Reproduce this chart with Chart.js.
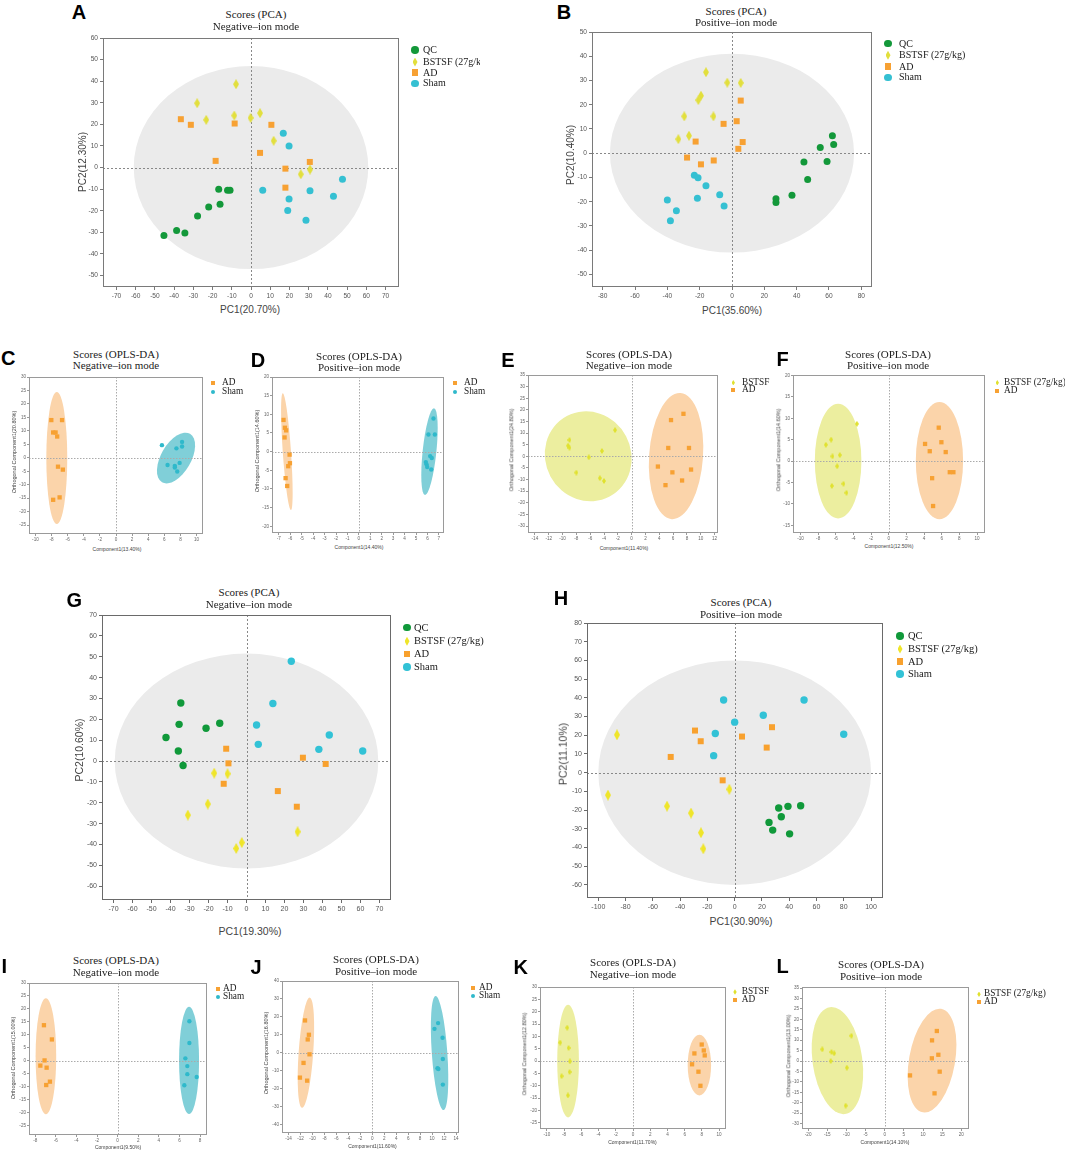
<!DOCTYPE html>
<html><head><meta charset="utf-8">
<script src="https://cdn.jsdelivr.net/npm/chart.js@4.4.0/dist/chart.umd.min.js"></script>
<style>
body{margin:0;background:#fff;}
#root{position:relative;width:1065px;height:1151px;overflow:hidden;background:#fff;}
#root canvas{position:absolute;}
.t{position:absolute;white-space:nowrap;z-index:5;}
.ttl{font-family:'Liberation Serif','Times New Roman',serif;color:#222;font-size:11px;line-height:11px;}
.let{font-family:'Liberation Sans',Arial,sans-serif;font-weight:bold;color:#000;font-size:20px;line-height:20px;}
.ax{font-family:'Liberation Sans',Arial,sans-serif;color:#444;}
.lg{font-family:'Liberation Serif','Times New Roman',serif;color:#1a1a1a;}
.mk{position:absolute;z-index:5;}
</style></head><body><div id="root"></div>
<script>
// ---------------- DATA ----------------
// Panel A: PCA negative
const A_QC=[[-45.3,-31.5],[-38.7,-29.1],[-34.4,-30.3],[-27.8,-22.4],[-22.0,-18.2],[-16.1,-17.0],[-16.8,-10.0],[-12.2,-10.5],[-10.9,-10.5]];
const A_BSTSF=[[-28.0,29.8],[-23.3,22.1],[-7.8,38.6],[-8.7,24.1],[-0.2,23.0],[4.7,25.2],[11.8,12.4],[25.9,-3.1],[30.7,-0.9]];
const A_AD=[[-36.5,22.4],[-31.3,19.8],[-18.4,3.1],[-8.5,20.4],[10.6,19.8],[4.7,6.8],[17.9,-0.5],[30.6,2.6],[17.9,-9.3]];
const A_SHAM=[[16.8,15.9],[19.8,10.0],[6.1,-10.5],[19.8,-14.5],[19.1,-19.9],[28.6,-24.4],[30.7,-10.7],[42.9,-13.3],[47.6,-5.4]];
const A_ELL=[0,0,61,47,0];
const A_XT=[-70,-60,-50,-40,-30,-20,-10,0,10,20,30,40,50,60,70];
const A_YT=[-50,-40,-30,-20,-10,0,10,20,30,40,50,60];
// Panel B: PCA positive
const B_QC=[[62.1,7.2],[62.9,3.6],[54.6,2.3],[58.8,-3.4],[44.5,-3.6],[46.8,-10.9],[37.1,-17.4],[27.2,-18.8],[27.2,-20.3]];
const B_BSTSF=[[-16.1,33.4],[-2.9,29.1],[5.4,29.0],[-19.2,23.7],[-20.8,21.9],[-29.5,15.2],[-11.5,15.2],[-26.6,7.2],[-33.2,5.8]];
const B_AD=[[5.4,21.7],[-5.2,12.1],[2.9,13.2],[-22.5,4.8],[6.6,4.6],[3.9,1.8],[-27.8,-1.8],[-19.2,-4.6],[-11.3,-3.0]];
const B_SHAM=[[-23.3,-9.1],[-21.0,-10.1],[-16.1,-13.4],[-7.6,-17.1],[-4.9,-21.8],[-21.4,-18.6],[-40.0,-19.3],[-34.4,-23.7],[-38.1,-27.9]];
const B_ELL=[0,0,75.5,41,0];
const B_XT=[-80,-60,-40,-20,0,20,40,60,80];
const B_YT=[-50,-40,-30,-20,-10,0,10,20,30,40,50];
// Panel C
const C_AD=[[-8.03,14.0],[-6.7,14.0],[-7.8,9.4],[-7.5,9.4],[-7.3,7.9],[-7.2,-3.3],[-6.6,-4.4],[-7.8,-15.6],[-7.0,-14.7]];
const C_SHAM=[[5.7,4.7],[8.2,5.9],[8.2,4.2],[7.5,3.5],[6.4,-2.7],[7.9,-1.9],[7.3,-3.0],[7.3,-3.6],[7.6,-5.1]];
const C_ELL_AD=[-7.35,-0.1,1.3,24.5,0];
const C_ELL_SHAM=[7.45,-0.1,1.86,10.4,30];
const C_XT=[-10,-8,-6,-4,-2,0,2,4,6,8,10];
const C_YT=[-25,-20,-15,-10,-5,0,5,10,15,20,25,30];
// Panel D
const D_AD=[[-6.59,8.5],[-6.47,6.4],[-6.36,5.7],[-6.5,3.8],[-6.06,-0.8],[-6.03,-3.1],[-6.18,-3.9],[-6.41,-7.1],[-6.27,-9.2]];
const D_SHAM=[[6.53,8.9],[6.09,4.6],[6.65,4.6],[6.24,-1.2],[6.38,-1.7],[5.86,-2.8],[5.92,-3.4],[5.98,-4.1],[6.33,-4.8]];
const D_ELL_AD=[-6.3,0,0.36,15.7,-4];
const D_ELL_SHAM=[6.18,0,0.6,11.7,6];
const D_XT=[-7,-6,-5,-4,-3,-2,-1,0,1,2,3,4,5,6,7];
const D_YT=[-20,-15,-10,-5,0,5,10,15,20];
// Panel E
const E_BSTSF=[[-2.4,11.3],[-9.0,7.0],[-9.2,4.6],[-9.0,3.7],[-4.3,2.3],[-6.2,-0.4],[-8.0,-7.0],[-4.6,-9.4],[-4.0,-10.6]];
const E_AD=[[7.5,18.3],[5.7,15.6],[5.3,3.6],[8.3,3.6],[3.8,-4.4],[8.6,-5.7],[5.9,-6.9],[7.3,-10.4],[4.9,-12.4]];
const E_ELL_BSTSF=[-6.28,0,6.2,19.6,-28];
const E_ELL_AD=[6.43,0.1,3.9,27.2,4];
const E_XT=[-14,-12,-10,-8,-6,-4,-2,0,2,4,6,8,10,12];
const E_YT=[-30,-25,-20,-15,-10,-5,0,5,10,15,20,25,30,35];
// Panel F
const F_BSTSF=[[-3.62,8.7],[-6.53,5.0],[-7.13,3.8],[-5.55,1.4],[-6.38,1.1],[-5.85,-1.2],[-6.45,-5.8],[-5.13,-5.3],[-4.79,-7.4]];
const F_AD=[[5.66,7.8],[5.96,4.4],[4.11,4.0],[4.64,2.3],[6.45,2.1],[6.91,-2.6],[7.32,-2.6],[4.91,-4.0],[5.02,-10.5]];
const F_ELL_BSTSF=[-5.74,0,2.64,13.4,0];
const F_ELL_AD=[5.74,0.1,2.68,13.7,0];
const F_XT=[-10,-8,-6,-4,-2,0,2,4,6,8,10];
const F_YT=[-15,-10,-5,0,5,10,15,20];
// Panel G: PCA negative
const G_QC=[[-34.6,27.8],[-35.5,17.6],[-42.4,11.3],[-35.9,4.8],[-33.4,-2.1],[-21.3,15.7],[-14.1,18.1]];
const G_BSTSF=[[-17.0,-5.8],[-10.0,-6.1],[-20.4,-20.6],[-30.9,-25.9],[-2.5,-39.1],[-5.4,-41.9],[26.9,-33.9]];
const G_AD=[[-10.7,5.9],[-9.5,-1.1],[-12.0,-10.9],[16.5,-14.4],[26.5,-21.9],[29.7,1.6],[41.7,-1.4]];
const G_SHAM=[[23.6,47.8],[13.9,27.6],[5.3,17.3],[6.2,8.0],[38.1,5.6],[43.6,12.5],[61.2,4.8]];
const G_ELL=[0,0,69.4,51.5,0];
const G_XT=[-70,-60,-50,-40,-30,-20,-10,0,10,20,30,40,50,60,70];
const G_YT=[-60,-50,-40,-30,-20,-10,0,10,20,30,40,50,60,70];
// Panel H: PCA positive
const H_QC=[[32.3,-18.9],[39.1,-18.0],[48.4,-17.7],[34.2,-23.6],[25.2,-26.6],[27.9,-30.7],[40.3,-32.7]];
const H_BSTSF=[[-86.3,20.2],[-92.9,-12.0],[-49.6,-17.9],[-32.0,-21.6],[-24.7,-32.1],[-23.0,-40.7],[-3.9,-8.9]];
const H_AD=[[-29.1,22.5],[-24.9,16.8],[-46.9,8.4],[-8.8,-4.1],[5.4,19.3],[27.4,24.3],[23.5,13.4]];
const H_SHAM=[[-8.1,38.8],[0,27.0],[-14.2,20.9],[-15.4,9.1],[21.0,30.7],[50.9,38.8],[80.0,20.5]];
const H_ELL=[0,0,100,60,0];
const H_XT=[-100,-80,-60,-40,-20,0,20,40,60,80,100];
const H_YT=[-60,-50,-40,-30,-20,-10,0,10,20,30,40,50,60,70,80];
// Panel I
const I_AD=[[-7.15,13.7],[-6.38,8.2],[-7.09,0.1],[-7.5,-1.9],[-6.89,-2.7],[-6.57,-8.1],[-6.93,-9.4]];
const I_SHAM=[[6.96,15.2],[6.96,6.8],[6.57,0.9],[6.76,-2.1],[6.76,-5.2],[7.67,-6.3],[6.47,-9.5]];
const I_ELL_AD=[-6.96,1.7,1.0,22.4,0];
const I_ELL_SHAM=[6.93,0.1,0.97,20.7,0];
const I_XT=[-8,-6,-4,-2,0,2,4,6,8];
const I_YT=[-25,-20,-15,-10,-5,0,5,10,15,20,25,30];
// Panel J
const J_AD=[[-11.25,18.0],[-10.6,10.0],[-10.8,7.4],[-10.5,-0.9],[-11.5,-5.7],[-12.1,-13.9],[-10.9,-15.6]];
const J_SHAM=[[11.0,16.5],[10.4,13.3],[11.75,8.3],[11.8,-3.5],[10.9,-8.7],[11.05,-9.1],[11.8,-17.8]];
const J_ELL_AD=[-11.1,0,1.22,30.8,4];
const J_ELL_SHAM=[11.25,-0.2,1.3,31.9,-4];
const J_XT=[-14,-12,-10,-8,-6,-4,-2,0,2,4,6,8,10,12,14];
const J_YT=[-40,-30,-20,-10,0,10,20,30,40];
// Panel K
const K_BSTSF=[[-7.64,13.5],[-8.45,7.5],[-7.48,5.3],[-7.33,-0.1],[-7.36,-4.4],[-8.29,-6.1],[-7.56,-13.9]];
const K_AD=[[7.98,6.7],[7.13,3.1],[8.22,4.3],[8.33,2.3],[6.86,-1.3],[7.6,-4.3],[7.83,-10.0]];
const K_ELL_BSTSF=[-7.54,0,1.26,22.8,0];
const K_ELL_AD=[7.71,-1.6,1.36,12.3,0];
const K_XT=[-10,-8,-6,-4,-2,0,2,4,6,8,10];
const K_YT=[-25,-20,-15,-10,-5,0,5,10,15,20,25,30];
// Panel L
const L_BSTSF=[[-8.7,12.1],[-16.3,5.6],[-13.9,4.3],[-13.2,3.7],[-14.1,0],[-9.9,-3.2],[-10.2,-21.4]];
const L_AD=[[13.6,14.4],[12.35,9.9],[14.0,3.0],[12.3,1.3],[14.35,-5.1],[6.6,-6.9],[13.0,-15.5]];
const L_ELL_BSTSF=[-12.35,0.2,6.5,25.9,-8];
const L_ELL_AD=[12.35,0.2,6.0,25.2,10];
const L_XT=[-20,-15,-10,-5,0,5,10,15,20];
const L_YT=[-30,-25,-20,-15,-10,-5,0,5,10,15,20,25,30,35];

const LEG_PCA=['QC','BSTSF (27g/kg)','AD','Sham'];
const KEY_PCA=['QC','BSTSF','AD','Sham'];

// ---------------- STYLE ----------------
const MARK={
  pca:{QC:{shape:'circle',d:7,color:'#13983a'},BSTSF:{shape:'diamond',w:6,h:10,color:'#e2df3d'},AD:{shape:'square',d:6,color:'#f7a133'},Sham:{shape:'circle',d:7,color:'#35c0d2'}},
  pcaG:{QC:{shape:'circle',d:7.4,color:'#10993a'},BSTSF:{shape:'diamond',w:6,h:11,color:'#efe52a'},AD:{shape:'square',d:6,color:'#f8a12e'},Sham:{shape:'circle',d:7.4,color:'#32c2d6'}},
  opls:{AD:{shape:'square',d:4.3,color:'#f7a133'},Sham:{shape:'circle',d:4.4,color:'#2fb9cb'},BSTSF:{shape:'diamond',w:4,h:6,color:'#e0e12e'}}
};
const LEGMARK={
  pca:{QC:{shape:'circle',d:7.5},BSTSF:{shape:'diamond',w:5,h:9},AD:{shape:'square',d:6.5},Sham:{shape:'circle',d:7.5}},
  opls:{AD:{shape:'square',d:3.8},Sham:{shape:'circle',d:4},BSTSF:{shape:'diamond',w:3.4,h:5.5}}
};
const FILL={gray:'#ebebeb',AD:'#fbd4aa',Sham:'#80cfd8',BSTSF:'#ecee9f'};
const KIND={
  pca:{ML:30,MT:8,MR:12,MB:16,tick:6.6,tl:3,pad:2,frame:'#7a7a7a',zero:'#888',dash:[2,2],legSize:10,axSize:10,tickColor:'#555'},
  pcaG:{ML:30,MT:8,MR:12,MB:16,tick:7,tl:3,pad:2,frame:'#6a6a6a',zero:'#888',dash:[2,2],legSize:10.5,axSize:10.5,tickColor:'#555'},
  opls:{ML:14,MT:6,MR:10,MB:9,tick:4.6,tl:2,pad:1,frame:'#9a9a9a',zero:'#aaa',dash:[1.5,1.5],legSize:9.3,axY:5.5,axX:5,tickColor:'#666'}
};

const PANELS=[
 {L:'A',let:[79,11.7],plot:[103,38,399,287],xr:[-77,77],yr:[-55.3,60],xt:A_XT,yt:A_YT,kind:'pca',
  series:[['QC',A_QC],['BSTSF',A_BSTSF],['AD',A_AD],['Sham',A_SHAM]],ells:[[A_ELL,'gray']],
  title:[256,14.3,25.7,'Scores (PCA)','Negative–ion mode'],ytitle:[83,162,'PC2(12.30%)'],xtitle:[250,310,'PC1(20.70%)'],
  leg:{mx:415,tx:423,ys:[50,62,72.7,83.3],labels:LEG_PCA,keys:KEY_PCA,clip:480}},
 {L:'B',let:[564,11.5],plot:[592,32,872,287],xr:[-86.6,86.6],yr:[-55.2,50],xt:B_XT,yt:B_YT,kind:'pca',
  series:[['QC',B_QC],['BSTSF',B_BSTSF],['AD',B_AD],['Sham',B_SHAM]],ells:[[B_ELL,'gray']],
  title:[736,10.7,22,'Scores (PCA)','Positive–ion mode'],ytitle:[571,155,'PC2(10.40%)'],xtitle:[732,311,'PC1(35.60%)'],
  leg:{mx:888,tx:899,ys:[43.7,55.3,66.7,77.3],labels:LEG_PCA,keys:KEY_PCA}},
 {L:'C',let:[8.3,358.3],plot:[29,377,203,534],xr:[-10.8,10.8],yr:[-28.3,30],xt:C_XT,yt:C_YT,kind:'opls',
  series:[['AD',C_AD],['Sham',C_SHAM]],ells:[[C_ELL_AD,'AD'],[C_ELL_SHAM,'Sham']],
  title:[116,354,365.3,'Scores (OPLS-DA)','Negative–ion mode'],ytitle:[15,452,'Orthogonal Component1(20.80%)'],xtitle:[117,549,'Component1(13.40%)'],
  leg:{mx:213,tx:222,ys:[383.3,391.7],labels:['AD','Sham'],keys:['AD','Sham']}},
 {L:'D',let:[258,360],plot:[272,377,444,533],xr:[-7.6,7.45],yr:[-21.8,20],xt:D_XT,yt:D_YT,kind:'opls',
  series:[['AD',D_AD],['Sham',D_SHAM]],ells:[[D_ELL_AD,'AD'],[D_ELL_SHAM,'Sham']],
  title:[359,355.7,367.3,'Scores (OPLS-DA)','Positive–ion mode'],ytitle:[258.3,451,'Orthogonal Component1(14.60%)'],xtitle:[359,546.7,'Component1(14.40%)'],
  leg:{mx:455,tx:464,ys:[383.3,392.3],labels:['AD','Sham'],keys:['AD','Sham']}},
 {L:'E',let:[508,360],plot:[528,375,718,533],xr:[-15,12.5],yr:[-33,35],xt:E_XT,yt:E_YT,kind:'opls',
  series:[['BSTSF',E_BSTSF],['AD',E_AD]],ells:[[E_ELL_BSTSF,'BSTSF'],[E_ELL_AD,'AD']],
  title:[629,354,365.3,'Scores (OPLS-DA)','Negative–ion mode'],ytitle:[511.7,450,'Orthogonal Component1(24.80%)'],xtitle:[624,547.7,'Component1(11.40%)'],
  leg:{mx:733.3,tx:742,ys:[382.7,390],labels:['BSTSF','AD'],keys:['BSTSF','AD']}},
 {L:'F',let:[782.5,359.2],plot:[793,375,985,533],xr:[-10.85,10.9],yr:[-16.8,20.1],xt:F_XT,yt:F_YT,kind:'opls',
  series:[['BSTSF',F_BSTSF],['AD',F_AD]],ells:[[F_ELL_BSTSF,'BSTSF'],[F_ELL_AD,'AD']],
  title:[888,354,365.3,'Scores (OPLS-DA)','Positive–ion mode'],ytitle:[779,450,'Orthogonal Component1(14.60%)'],xtitle:[889,545.7,'Component1(12.50%)'],
  leg:{mx:997.3,tx:1004,ys:[382.7,390.7],labels:['BSTSF (27g/kg)','AD'],keys:['BSTSF','AD']}},
 {L:'G',let:[74.2,599.5],plot:[102,615,391,900],xr:[-76.1,76.1],yr:[-66.6,70],xt:G_XT,yt:G_YT,kind:'pcaG',
  series:[['QC',G_QC],['BSTSF',G_BSTSF],['AD',G_AD],['Sham',G_SHAM]],ells:[[G_ELL,'gray']],
  title:[249,592.3,604,'Scores (PCA)','Negative–ion mode'],ytitle:[79,750,'PC2(10.60%)'],xtitle:[250,931,'PC1(19.30%)'],
  leg:{mx:407,tx:414,ys:[627.7,641.3,654,667],labels:LEG_PCA,keys:KEY_PCA}},
 {L:'H',let:[561,598.3],plot:[587,623,883,898],xr:[-108.3,108.8],yr:[-67,80],xt:H_XT,yt:H_YT,kind:'pcaG',
  series:[['QC',H_QC],['BSTSF',H_BSTSF],['AD',H_AD],['Sham',H_SHAM]],ells:[[H_ELL,'gray']],
  title:[741,602.3,613.7,'Scores (PCA)','Positive–ion mode'],ytitle:[563.3,754,'PC2(11.10%)'],xtitle:[741,921,'PC1(30.90%)'],
  leg:{mx:900,tx:908,ys:[636,649,661.7,674],labels:LEG_PCA,keys:KEY_PCA}},
 {L:'I',let:[4.2,965.8],plot:[29,983,207,1135],xr:[-8.6,8.67],yr:[-28.7,30],xt:I_XT,yt:I_YT,kind:'opls',
  series:[['AD',I_AD],['Sham',I_SHAM]],ells:[[I_ELL_AD,'AD'],[I_ELL_SHAM,'Sham']],
  title:[116,960.3,971.7,'Scores (OPLS-DA)','Negative–ion mode'],ytitle:[14.3,1058,'Orthogonal Component1(15.00%)'],xtitle:[118,1146.7,'Component1(9.50%)'],
  leg:{mx:217.7,tx:223,ys:[989.3,997.3],labels:['AD','Sham'],keys:['AD','Sham']}},
 {L:'J',let:[256,966.7],plot:[282,981,459,1133],xr:[-15.1,14.5],yr:[-44.8,40],xt:J_XT,yt:J_YT,kind:'opls',
  series:[['AD',J_AD],['Sham',J_SHAM]],ells:[[J_ELL_AD,'AD'],[J_ELL_SHAM,'Sham']],
  title:[376,959,970.7,'Scores (OPLS-DA)','Positive–ion mode'],ytitle:[267.3,1053,'Orthogonal Component1(16.80%)'],xtitle:[372.5,1146,'Component1(11.60%)'],
  leg:{mx:473.3,tx:479,ys:[987.7,995.7],labels:['AD','Sham'],keys:['AD','Sham']}},
 {L:'K',let:[520.8,966.7],plot:[540,987,726,1129],xr:[-10.8,10.8],yr:[-27.5,30],xt:K_XT,yt:K_YT,kind:'opls',
  series:[['BSTSF',K_BSTSF],['AD',K_AD]],ells:[[K_ELL_BSTSF,'BSTSF'],[K_ELL_AD,'AD']],
  title:[633,962.3,974.3,'Scores (OPLS-DA)','Negative–ion mode'],ytitle:[525,1054,'Orthogonal Component1(12.80%)'],xtitle:[632.5,1141.7,'Component1(11.70%)'],
  leg:{mx:735,tx:741.7,ys:[992,1000.3],labels:['BSTSF','AD'],keys:['BSTSF','AD']}},
 {L:'L',let:[782.5,965.8],plot:[802,987,969,1129],xr:[-21.6,22],yr:[-32.6,35.5],xt:L_XT,yt:L_YT,kind:'opls',
  series:[['BSTSF',L_BSTSF],['AD',L_AD]],ells:[[L_ELL_BSTSF,'BSTSF'],[L_ELL_AD,'AD']],
  title:[881,964.3,976,'Scores (OPLS-DA)','Positive–ion mode'],ytitle:[789,1056,'Orthogonal Component1(13.00%)'],xtitle:[885,1142.3,'Component1(14.10%)'],
  leg:{mx:979,tx:984,ys:[994.3,1002.3],labels:['BSTSF (27g/kg)','AD'],keys:['BSTSF','AD']}}
];

// ---------------- DRAWING ----------------
const root=document.getElementById('root');
const SANS="'Liberation Sans', Arial, sans-serif";

function txt(s,x,y,cls,css,mode){
  const d=document.createElement('div');
  d.className='t '+cls; d.textContent=s;
  d.style.left=x+'px'; d.style.top=y+'px';
  if(mode==='rot') d.style.transform='translate(-50%,-50%) rotate(-90deg)';
  else if(mode==='left') d.style.transform='translate(0,-50%)';
  else d.style.transform='translate(-50%,-50%)';
  Object.assign(d.style,css||{});
  root.appendChild(d);
  return d;
}
function marker(m,color,x,y){
  const d=document.createElement('div'); d.className='mk';
  const w=m.shape==='diamond'?m.w:m.d, h=m.shape==='diamond'?m.h:m.d;
  d.style.left=(x-w/2)+'px'; d.style.top=(y-h/2)+'px';
  d.style.width=w+'px'; d.style.height=h+'px'; d.style.background=color;
  if(m.shape==='circle') d.style.borderRadius='50%';
  if(m.shape==='diamond') d.style.clipPath='polygon(50% 0,100% 50%,50% 100%,0 50%)';
  root.appendChild(d);
}
function diamondImg(w,h,color){
  const c=document.createElement('canvas'); c.width=w; c.height=h;
  const g=c.getContext('2d'); g.fillStyle=color; g.beginPath();
  g.moveTo(w/2,0); g.lineTo(w,h/2); g.lineTo(w/2,h); g.lineTo(0,h/2); g.closePath(); g.fill();
  return c;
}
function dataset(name,arr,m){
  const o={label:name,data:arr.map(p=>({x:p[0],y:p[1]})),backgroundColor:m.color,borderColor:m.color,
    pointBackgroundColor:m.color,pointBorderColor:m.color,pointBorderWidth:0,pointHoverRadius:0};
  if(m.shape==='circle'){o.pointStyle='circle';o.pointRadius=m.d/2;}
  else if(m.shape==='square'){o.pointStyle='rect';o.pointRadius=m.d*Math.SQRT1_2;}
  else {o.pointStyle=diamondImg(m.w,m.h,m.color);o.pointRadius=m.h/2;}
  return o;
}
const decor={
  id:'decor',
  beforeDatasetsDraw(chart,args,opts){
    const ctx=chart.ctx,a=chart.chartArea,xs=chart.scales.x,ys=chart.scales.y;
    ctx.save();
    opts.ellipses.forEach(e=>{
      const [cx,cy,rx,ry,tilt]=e.p;
      const px=xs.getPixelForValue(cx),py=ys.getPixelForValue(cy);
      const rxp=Math.abs(xs.getPixelForValue(cx+rx)-px),ryp=Math.abs(ys.getPixelForValue(cy+ry)-py);
      ctx.beginPath(); ctx.ellipse(px,py,rxp,ryp,tilt*Math.PI/180,0,Math.PI*2);
      ctx.fillStyle=e.fill; ctx.fill();
    });
    ctx.strokeStyle=opts.zero; ctx.lineWidth=1; ctx.setLineDash(opts.dash);
    const x0=Math.round(xs.getPixelForValue(0))+0.5,y0=Math.round(ys.getPixelForValue(0))+0.5;
    ctx.beginPath(); ctx.moveTo(x0,a.top); ctx.lineTo(x0,a.bottom);
    ctx.moveTo(a.left,y0); ctx.lineTo(a.right,y0); ctx.stroke();
    ctx.setLineDash([]); ctx.strokeStyle=opts.frame; ctx.lineWidth=1;
    ctx.strokeRect(Math.round(a.left)+0.5,Math.round(a.top)+0.5,Math.round(a.right-a.left)-1,Math.round(a.bottom-a.top)-1);
    ctx.restore();
  }
};

PANELS.forEach(P=>{
  const K=KIND[P.kind];
  const isOpls=P.kind==='opls';
  const [l,t,r,b]=P.plot;
  const cv=document.createElement('canvas');
  const W=(r-l)+K.ML+K.MR,H=(b-t)+K.MT+K.MB;
  cv.width=W; cv.height=H;
  cv.style.left=(l-K.ML)+'px'; cv.style.top=(t-K.MT)+'px';
  cv.style.width=W+'px'; cv.style.height=H+'px';
  root.appendChild(cv);
  const marks=MARK[P.kind];
  const datasets=P.series.map(s=>dataset(s[0],s[1],marks[s[0]]));
  const ells=P.ells.map(e=>({p:e[0],fill:FILL[e[1]]}));
  const axisCommon=(ticksArr,isX)=>({
    type:'linear',bounds:'data',
    afterBuildTicks:sc=>{sc.ticks=ticksArr.map(v=>({value:v}));},
    afterFit:sc=>{ if(isX) sc.height=K.MB; else sc.width=K.ML; },
    ticks:{autoSkip:false,maxRotation:0,minRotation:0,padding:K.pad,color:K.tickColor,
      font:{family:SANS,size:K.tick},callback:v=>String(v)},
    grid:{drawOnChartArea:false,drawTicks:true,tickLength:K.tl,color:K.frame,lineWidth:1},
    border:{display:false}
  });
  const xa=axisCommon(P.xt,true); xa.min=P.xr[0]; xa.max=P.xr[1];
  const ya=axisCommon(P.yt,false); ya.min=P.yr[0]; ya.max=P.yr[1];
  new Chart(cv,{
    type:'scatter',
    data:{datasets},
    options:{responsive:false,animation:false,events:[],
      layout:{padding:{left:0,top:K.MT,right:K.MR,bottom:0}},
      scales:{x:xa,y:ya},
      plugins:{legend:{display:false},title:{display:false},tooltip:{enabled:false},
        decor:{ellipses:ells,zero:K.zero,dash:K.dash,frame:K.frame}}
    },
    plugins:[decor]
  });
  // texts
  txt(P.L,P.let[0],P.let[1],'let');
  txt(P.title[3],P.title[0],P.title[1],'ttl');
  txt(P.title[4],P.title[0],P.title[2],'ttl');
  const ayS=isOpls?K.axY:K.axSize, axS=isOpls?K.axX:K.axSize;
  txt(P.ytitle[2],P.ytitle[0],P.ytitle[1],'ax',{fontSize:ayS+'px',lineHeight:ayS+'px'},'rot');
  txt(P.xtitle[2],P.xtitle[0],P.xtitle[1],'ax',{fontSize:axS+'px',lineHeight:axS+'px'});
  const lm=LEGMARK[isOpls?'opls':'pca'];
  P.leg.keys.forEach((k,i)=>{
    marker(lm[k],marks[k].color,P.leg.mx,P.leg.ys[i]);
    const css={fontSize:K.legSize+'px',lineHeight:(K.legSize+2)+'px'};
    if(P.leg.clip){css.maxWidth=(P.leg.clip-P.leg.tx)+'px';css.overflow='hidden';}
    txt(P.leg.labels[i],P.leg.tx,P.leg.ys[i],'lg',css,'left');
  });
});
</script></body></html>
